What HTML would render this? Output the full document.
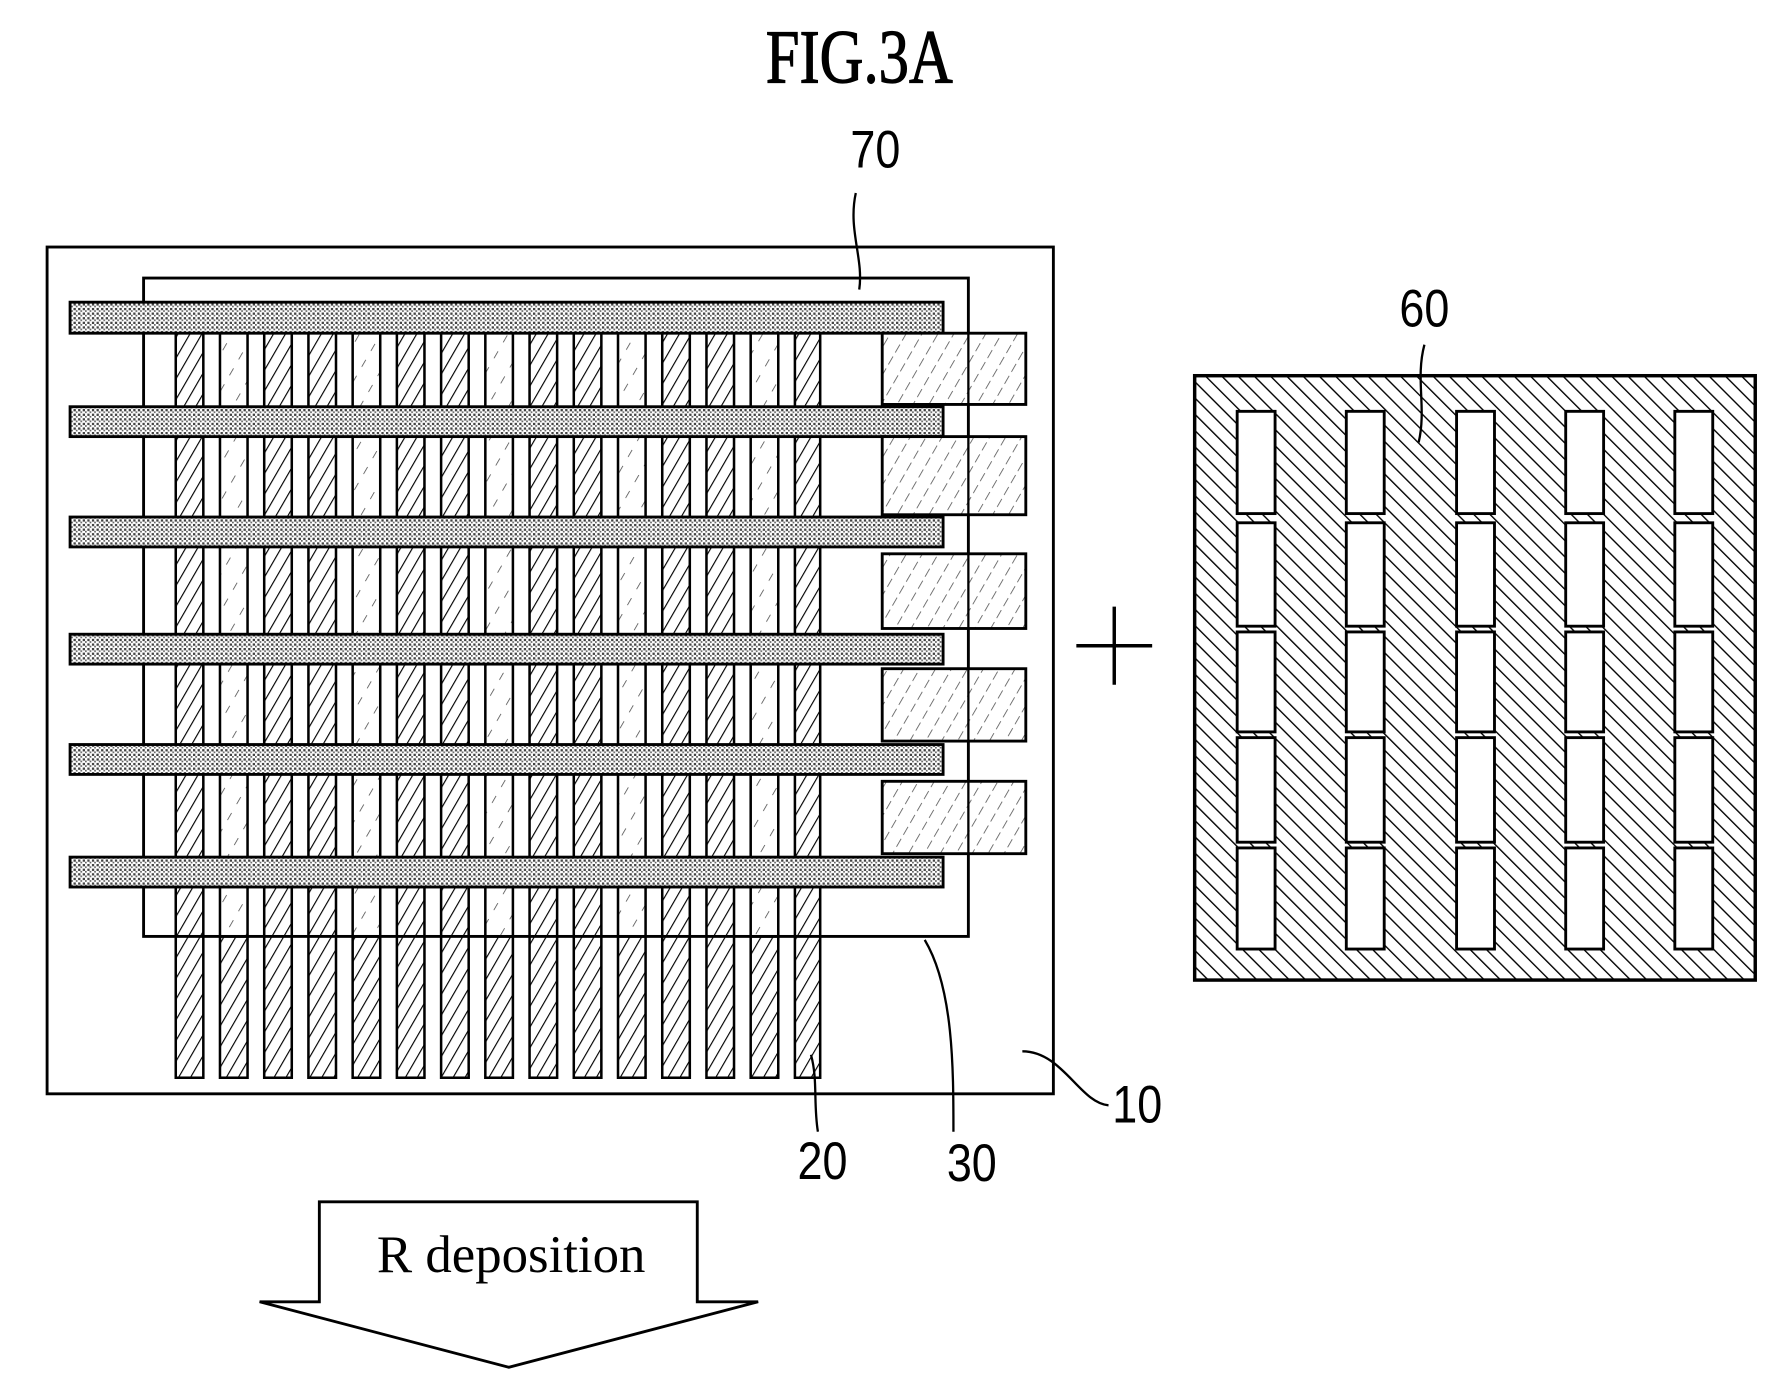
<!DOCTYPE html>
<html><head><style>html,body{margin:0;padding:0;background:#fff}svg{display:block}</style></head><body>
<svg width="1792" height="1396" viewBox="0 0 1560 1215" preserveAspectRatio="none" xmlns="http://www.w3.org/2000/svg">
<defs>
<pattern id="h1" width="9" height="9" patternUnits="userSpaceOnUse" patternTransform="rotate(30)"><line x1="0" y1="0" x2="0" y2="9" stroke="#000" stroke-width="2"/></pattern>
<pattern id="h2" width="16" height="16" patternUnits="userSpaceOnUse" patternTransform="rotate(30)"><line x1="0" y1="0" x2="0" y2="7" stroke="#444" stroke-width="1.3"/></pattern>
<pattern id="h3" width="10" height="10" patternUnits="userSpaceOnUse" patternTransform="rotate(-45)"><line x1="0" y1="0" x2="0" y2="10" stroke="#000" stroke-width="2.4"/></pattern>
<pattern id="d1" width="4" height="4" patternUnits="userSpaceOnUse"><rect width="4" height="4" fill="#fff"/><rect x="0" y="0" width="2" height="2" fill="#444"/><rect x="2" y="2" width="1.5" height="1.5" fill="#666"/></pattern>
<pattern id="p1" width="12" height="12" patternUnits="userSpaceOnUse" patternTransform="rotate(30)"><rect x="-1" y="0" width="14" height="12" fill="#fff"/><line x1="0" y1="0" x2="0" y2="8" stroke="#555" stroke-width="1.4"/></pattern>
</defs>
<text x="748" y="72" font-family="Liberation Serif, serif" font-size="66" text-anchor="middle" stroke="#000" stroke-width="1" transform="translate(748 0) scale(0.8 1) translate(-748 0)">FIG.3A</text>
<g fill="none" stroke="#000" stroke-width="2.5">
<rect x="41" y="215" width="876" height="737"/>
<rect x="125" y="242" width="718" height="573"/>
</g>
<g stroke="#000" stroke-width="2.2">
<rect x="153" y="290" width="24" height="648" fill="url(#h1)"/>
<rect x="191.5" y="290" width="24" height="525" fill="url(#h2)"/><rect x="191.5" y="815" width="24" height="123" fill="url(#h1)"/>
<rect x="230" y="290" width="24" height="648" fill="url(#h1)"/>
<rect x="268.5" y="290" width="24" height="648" fill="url(#h1)"/>
<rect x="307" y="290" width="24" height="525" fill="url(#h2)"/><rect x="307" y="815" width="24" height="123" fill="url(#h1)"/>
<rect x="345.5" y="290" width="24" height="648" fill="url(#h1)"/>
<rect x="384" y="290" width="24" height="648" fill="url(#h1)"/>
<rect x="422.5" y="290" width="24" height="525" fill="url(#h2)"/><rect x="422.5" y="815" width="24" height="123" fill="url(#h1)"/>
<rect x="461" y="290" width="24" height="648" fill="url(#h1)"/>
<rect x="499.5" y="290" width="24" height="648" fill="url(#h1)"/>
<rect x="538" y="290" width="24" height="525" fill="url(#h2)"/><rect x="538" y="815" width="24" height="123" fill="url(#h1)"/>
<rect x="576.5" y="290" width="24" height="648" fill="url(#h1)"/>
<rect x="615" y="290" width="24" height="648" fill="url(#h1)"/>
<rect x="653.5" y="290" width="24" height="525" fill="url(#h2)"/><rect x="653.5" y="815" width="24" height="123" fill="url(#h1)"/>
<rect x="692" y="290" width="22" height="648" fill="url(#h1)"/>
</g>
<g stroke="#000" stroke-width="2.5" fill="url(#d1)">
<rect x="61" y="263" width="760" height="27"/>
<rect x="61" y="354" width="760" height="26"/>
<rect x="61" y="450" width="760" height="26"/>
<rect x="61" y="552" width="760" height="26"/>
<rect x="61" y="648" width="760" height="26"/>
<rect x="61" y="746" width="760" height="26"/>
</g>
<g stroke="#000" stroke-width="2.5" fill="url(#p1)">
<rect x="768" y="290" width="125" height="62"/>
<rect x="768" y="380" width="125" height="68"/>
<rect x="768" y="482" width="125" height="65"/>
<rect x="768" y="582" width="125" height="63"/>
<rect x="768" y="680" width="125" height="63"/>
</g>
<line x1="843" y1="290" x2="843" y2="743" stroke="#000" stroke-width="2"/>
<g stroke="#000" stroke-width="3"><line x1="937" y1="562" x2="1003" y2="562"/><line x1="970" y1="528" x2="970" y2="596"/></g>
<rect x="1040" y="327" width="488" height="526" fill="url(#h3)" stroke="#000" stroke-width="3"/>
<g fill="#fff" stroke="#000" stroke-width="2.5">
<rect x="1077" y="358" width="33" height="89"/><rect x="1077" y="455" width="33" height="90"/><rect x="1077" y="550" width="33" height="87"/><rect x="1077" y="642" width="33" height="91"/><rect x="1077" y="738" width="33" height="88"/>
<rect x="1172" y="358" width="33" height="89"/><rect x="1172" y="455" width="33" height="90"/><rect x="1172" y="550" width="33" height="87"/><rect x="1172" y="642" width="33" height="91"/><rect x="1172" y="738" width="33" height="88"/>
<rect x="1268" y="358" width="33" height="89"/><rect x="1268" y="455" width="33" height="90"/><rect x="1268" y="550" width="33" height="87"/><rect x="1268" y="642" width="33" height="91"/><rect x="1268" y="738" width="33" height="88"/>
<rect x="1363" y="358" width="33" height="89"/><rect x="1363" y="455" width="33" height="90"/><rect x="1363" y="550" width="33" height="87"/><rect x="1363" y="642" width="33" height="91"/><rect x="1363" y="738" width="33" height="88"/>
<rect x="1458" y="358" width="33" height="89"/><rect x="1458" y="455" width="33" height="90"/><rect x="1458" y="550" width="33" height="87"/><rect x="1458" y="642" width="33" height="91"/><rect x="1458" y="738" width="33" height="88"/>
</g>
<g fill="none" stroke="#000" stroke-width="2">
<path d="M745 168 C738 200 752 225 748 252"/>
<path d="M1240 300 C1232 330 1242 355 1235 385"/>
<path d="M890 915 C925 915 940 960 965 962"/>
<path d="M706 918 C712 940 708 960 712 985"/>
<path d="M805 818 C830 860 830 930 830 985"/>
</g>
<g font-family="Liberation Sans, sans-serif" font-size="46" text-anchor="middle">
<text x="762" y="146" transform="translate(762 0) scale(0.85 1) translate(-762 0)">70</text>
<text x="1240" y="284" transform="translate(1240 0) scale(0.85 1) translate(-1240 0)">60</text>
<text x="990" y="977" transform="translate(990 0) scale(0.85 1) translate(-990 0)">10</text>
<text x="716" y="1026" transform="translate(716 0) scale(0.85 1) translate(-716 0)">20</text>
<text x="846" y="1028" transform="translate(846 0) scale(0.85 1) translate(-846 0)">30</text>
</g>
<path d="M278 1133 L278 1046 L607 1046 L607 1133 L660 1133 L443 1190 L226 1133 Z" fill="#fff" stroke="#000" stroke-width="2.5"/>
<text x="445" y="1107" font-family="Liberation Serif, serif" font-size="46" text-anchor="middle">R deposition</text>
</svg>
</body></html>
